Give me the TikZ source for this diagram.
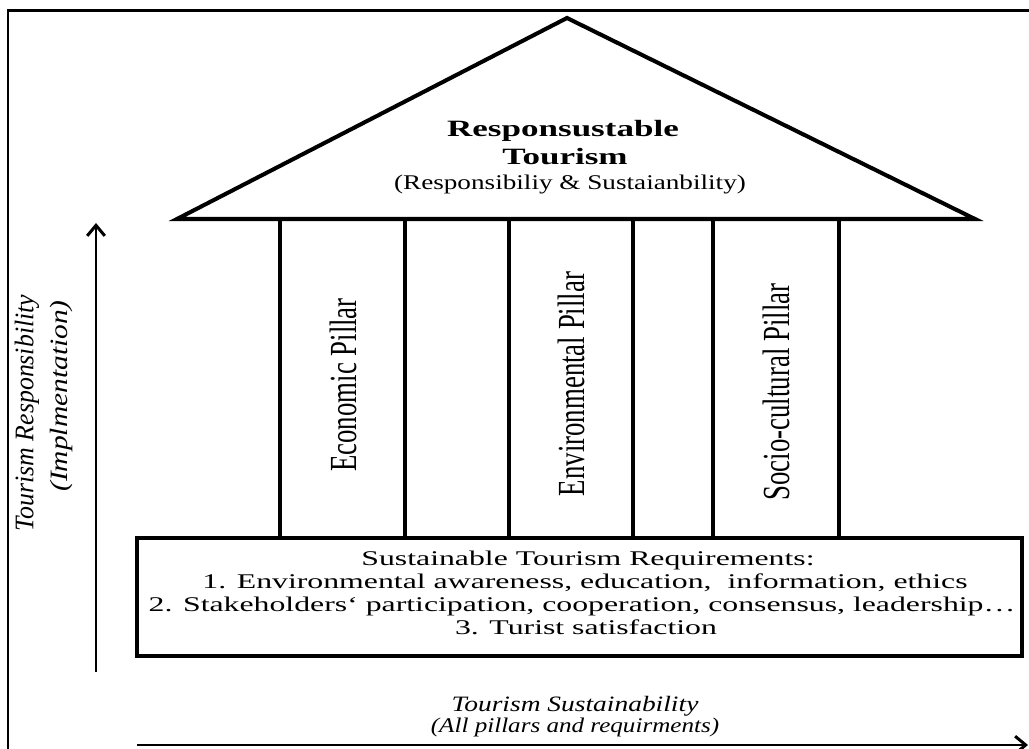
\documentclass[tikz,border=0pt]{standalone}
\usepackage{fontspec}
\setmainfont{Liberation Serif}
\newfontfamily\roofbf{Liberation Serif}[FakeStretch=1.5]
\newfontfamily\roofsub{Liberation Serif}[FakeStretch=1.3]
\newfontfamily\reqfont{Liberation Serif}[FakeStretch=1.52]
\newfontfamily\pillarfont{Liberation Serif}[FakeStretch=0.7]
\newfontfamily\respfont{Liberation Serif}[FakeStretch=0.96]
\newfontfamily\implfont{Liberation Serif}[FakeStretch=1.18]
\newfontfamily\sustfont{Liberation Serif}[FakeStretch=1.25]
\newfontfamily\allpfont{Liberation Serif}[FakeStretch=1.2]
\usetikzlibrary{arrows.meta}
\tikzstyle{frameline} = [line width=1.7pt]
\tikzstyle{roofline} = [line width=2.3pt, line join=miter]
\tikzstyle{pillarline} = [line width=2.3pt]
\tikzstyle{basebox} = [rectangle, draw=black, line width=2.3pt, minimum width=17.7cm, minimum height=2.36cm]
\tikzstyle{rooftitle} = [anchor=base, inner sep=0pt, font=\roofbf\bfseries\fontsize{13.3}{15.6}\selectfont]
\tikzstyle{roofnote} = [anchor=base, inner sep=0pt, font=\roofsub\fontsize{11.9}{14}\selectfont]
\tikzstyle{reqline} = [anchor=base, inner sep=0pt, font=\reqfont\fontsize{11.9}{13}\selectfont]
\tikzstyle{pillarlabel} = [rotate=90, inner sep=0pt, font=\pillarfont\fontsize{21.8}{24}\selectfont]
\tikzstyle{resplabel} = [rotate=90, inner sep=0pt, font=\respfont\itshape\fontsize{15.3}{17}\selectfont]
\tikzstyle{impllabel} = [rotate=90, inner sep=0pt, font=\implfont\itshape\fontsize{14.2}{16}\selectfont]
\tikzstyle{sustlabel} = [anchor=base, inner sep=0pt, font=\sustfont\itshape\fontsize{12.5}{14}\selectfont]
\tikzstyle{allplabel} = [anchor=base, inner sep=0pt, font=\allpfont\itshape\fontsize{11.9}{14}\selectfont]
\tikzstyle{arrow} = [line width=1.7pt, -{Straight Barb[length=6pt,width=10pt]}]

\begin{document}
\begin{tikzpicture}[x=0.02cm, y=-0.02cm]
	\useasboundingbox (0,0) rectangle (1029,749);
	\draw [frameline] (8,749) -- (8,11) -- (1029,11);
	
	% roof
	\draw [roofline] (177,219) -- (567,18) -- (975,219) -- cycle;
	\node (title1) [rooftitle] at (563,137) {Responsustable};
	\node (title2) [rooftitle] at (565,165) {Tourism};
	\node (subtitle) [roofnote] at (570,190) {(Responsibiliy \& Sustaianbility)};
	
	% pillars
	\foreach \x in {280,405,509,633,713,839}
		\draw [pillarline] (\x,219) -- (\x,538);
	\node (econ) [pillarlabel] at (343,385) {Economic Pillar};
	\node (envi) [pillarlabel] at (571,384) {Environmental Pillar};
	\node (soc) [pillarlabel] at (776,392) {Socio-cultural Pillar};
	
	% base
	\node (base) [basebox] at (579.5,597) {};
	\node (req1) [reqline] at (588,566) {Sustainable Tourism Requirements:};
	\node (req2) [reqline] at (585,589) {1. Environmental awareness, education,\ \ information, ethics};
	\node (req3) [reqline] at (582,612) {2. Stakeholders‘ participation, cooperation, consensus, leadership…};
	\node (req4) [reqline] at (586,635) {3. Turist satisfaction};
	
	% axes
	\coordinate (resp0) at (96,672);
	\coordinate (resp1) at (96,223);
	\coordinate (sust0) at (137,745);
	\coordinate (sust1) at (1028,745);
	\draw [arrow] (resp0) -- (resp1);
	\draw [arrow] (sust0) -- (sust1);
	\node (resp) [resplabel] at (27,413) {Tourism Responsibility};
	\node (impl) [impllabel] at (62,396) {(Implmentation)};
	\node (sust) [sustlabel] at (575,712) {Tourism Sustainability};
	\node (allp) [allplabel] at (575,733) {(All pillars and requirments)};
\end{tikzpicture}
\end{document}
